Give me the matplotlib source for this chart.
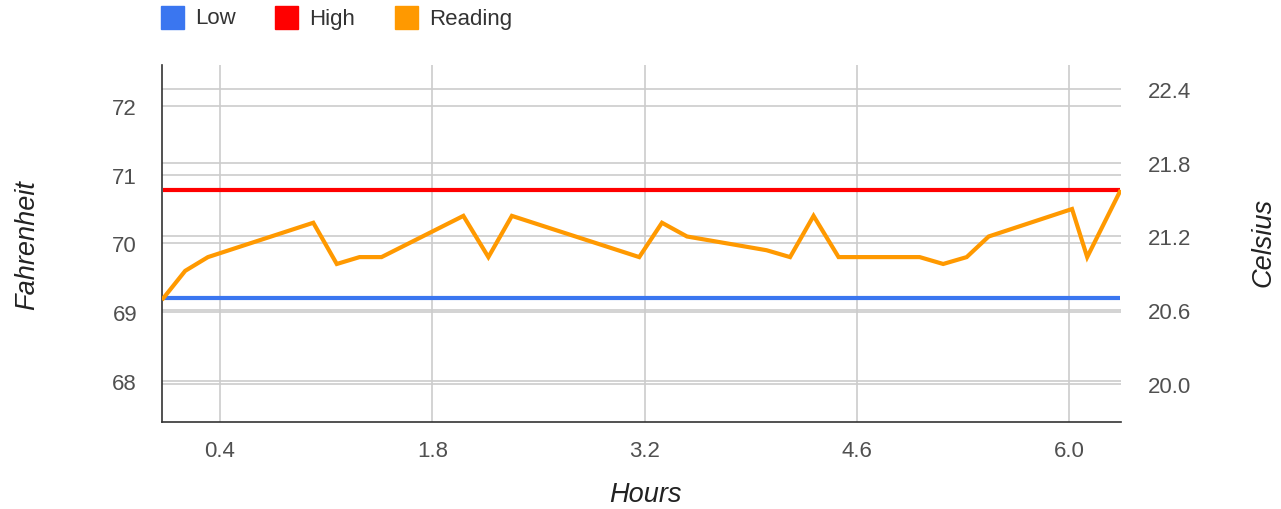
import matplotlib
matplotlib.use("Agg")
import matplotlib.pyplot as plt
from matplotlib.patches import Rectangle
from matplotlib.ticker import FormatStrFormatter

# data (hours, degrees Fahrenheit)
hours = [0.025, 0.17, 0.32, 1.015, 1.17, 1.32, 1.465, 2.005, 2.17, 2.325,
         3.165, 3.315, 3.48, 4.005, 4.16, 4.315, 4.48, 5.015, 5.17, 5.325,
         5.47, 6.02, 6.12, 6.335]
reading = [69.2, 69.6, 69.8, 70.3, 69.7, 69.8, 69.8, 70.4, 69.8, 70.4,
           69.8, 70.3, 70.1, 69.9, 69.8, 70.4, 69.8, 69.8, 69.7, 69.8,
           70.1, 70.5, 69.8, 70.75]
low = 69.2
high = 70.78

x_ticks = [0.4, 1.8, 3.2, 4.6, 6.0]
f_ticks = [68, 69, 70, 71, 72]
c_ticks = [20.0, 20.6, 21.2, 21.8, 22.4]

series_names = ["Low", "High", "Reading"]
colors = ["#3a76f0", "#ff0000", "#ff9900"]

plt.rcParams['font.family'] = ['Liberation Sans', 'DejaVu Sans']

fig = plt.figure(figsize=(12.81, 5.10), dpi=100)
ax = fig.add_axes([162 / 1281, 1 - 423 / 510, (1121 - 162) / 1281, (423 - 66) / 510])
ax2 = ax.twinx()
ax.set_zorder(ax2.get_zorder() + 1)
ax.patch.set_visible(False)

grid_col = "#cccccc"
tick_col = "#505050"
fs = 16
title_fs = 19.5

ax.plot([hours[0], hours[-1]], [low, low], color=colors[0], lw=3, solid_capstyle='butt', zorder=3)
ax.plot([hours[0], hours[-1]], [high, high], color=colors[1], lw=3, solid_capstyle='butt', zorder=3)
ax.plot(hours, reading, color=colors[2], lw=3, solid_joinstyle='miter', zorder=4)

ax.set_xlim(0.017, 6.343)
ax.set_ylim(67.40, 72.596)
ax2.set_ylim(19.691, 22.595)

ax.set_xticks(x_ticks)
ax.xaxis.set_major_formatter(FormatStrFormatter('%.1f'))
ax.set_yticks(f_ticks)
ax2.set_yticks(c_ticks)
ax2.yaxis.set_major_formatter(FormatStrFormatter('%.1f'))

ax.grid(True, color=grid_col, lw=1.2)
ax2.grid(True, axis='y', color=grid_col, lw=1.2)
ax.set_axisbelow(True)

for a in (ax, ax2):
    a.spines['top'].set_visible(False)
    a.spines['right'].set_visible(False)
ax2.spines['left'].set_visible(False)
ax2.spines['bottom'].set_visible(False)
ax.spines['left'].set_color('#333333')
ax.spines['bottom'].set_color('#333333')
ax.spines['left'].set_linewidth(1.2)
ax.spines['bottom'].set_linewidth(1.2)

ax.tick_params(axis='both', length=0, labelsize=fs, labelcolor=tick_col)
ax.tick_params(axis='y', pad=18)
ax.tick_params(axis='x', pad=13)
ax2.tick_params(axis='y', length=0, labelsize=fs, labelcolor=tick_col, pad=19)

fig.text(645 / 1281, 1 - 495 / 510, "Hours", fontsize=title_fs,
         style='italic', color='#222222', ha='center', va='center')
fig.text(27 / 1281, 1 - 245 / 510, "Fahrenheit", rotation=90, fontsize=title_fs,
         style='italic', color='#222222', ha='center', va='center')
fig.text(1263 / 1281, 1 - 242 / 510, "Celsius", rotation=90, fontsize=title_fs,
         style='italic', color='#222222', ha='center', va='center')

# legend
leg_x = [161, 275, 395]
for name, col, lx in zip(series_names, colors, leg_x):
    fig.patches.append(Rectangle((lx / 1281, 1 - 30 / 510), 23 / 1281, 23 / 510,
                                 transform=fig.transFigure, color=col))
    fig.text((lx + 34) / 1281, 1 - 19 / 510, name, fontsize=16, color='#333333',
             ha='left', va='center')

plt.savefig("out.png", dpi=100)
